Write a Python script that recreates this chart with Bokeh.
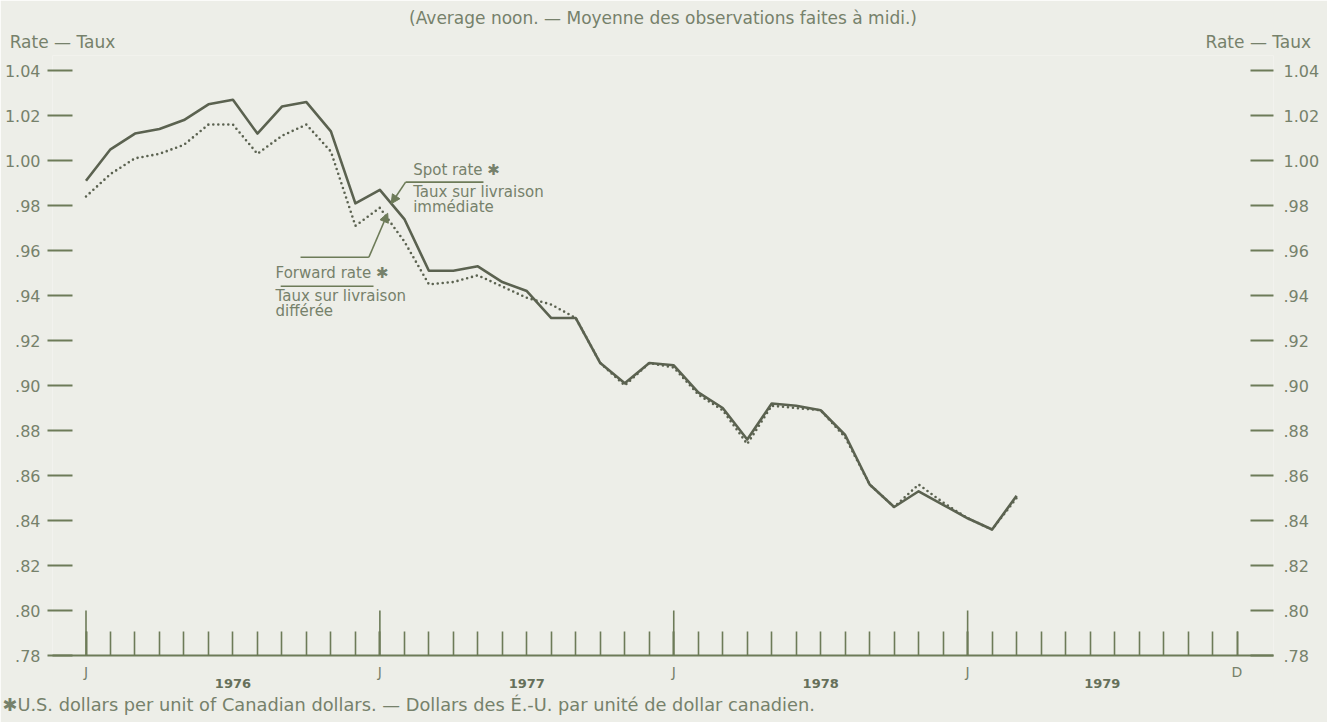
from bokeh.plotting import figure
from bokeh.models import (Range1d, LinearAxis, FixedTicker, Label, Arrow,
                          NormalHead, Title)
from bokeh.embed import file_html
from bokeh.resources import INLINE

# ---------------- data ----------------
# months since January 1976 (0 = Jan 1976)
months = list(range(39))
spot_rate = [0.991, 1.005, 1.012, 1.014, 1.018, 1.025, 1.027, 1.012, 1.024,
             1.026, 1.013, 0.981, 0.987, 0.974, 0.951, 0.951, 0.953, 0.946,
             0.942, 0.930, 0.930, 0.910, 0.901, 0.910, 0.909, 0.897, 0.890,
             0.876, 0.892, 0.891, 0.889, 0.878, 0.856, 0.846, 0.853, 0.847,
             0.841, 0.836, 0.851]
forward_rate = [0.984, 0.994, 1.001, 1.003, 1.007, 1.016, 1.016, 1.003, 1.011,
                1.016, 1.004, 0.971, 0.979, 0.964, 0.945, 0.946, 0.949, 0.944,
                0.939, 0.936, 0.930, 0.910, 0.900, 0.910, 0.908, 0.896, 0.889,
                0.874, 0.891, 0.890, 0.889, 0.877, 0.856, 0.846, 0.856, 0.848,
                0.841, 0.836, 0.850]

tick_months = list(range(48))
year_start_months = [0, 12, 24, 36]
month_label_pos = [0, 12, 24, 36, 47]
month_labels = ["J", "J", "J", "J", "D"]
year_pos = [6, 18, 30, 41.5]
year_labels = ["1976", "1977", "1978", "1979"]
y_ticks = [0.78, 0.80, 0.82, 0.84, 0.86, 0.88, 0.90, 0.92, 0.94, 0.96, 0.98,
           1.00, 1.02, 1.04]
y_tick_labels = [".78", ".80", ".82", ".84", ".86", ".88", ".90", ".92", ".94",
                 ".96", ".98", "1.00", "1.02", "1.04"]

title_text = "(Average noon. \u2014 Moyenne des observations faites \u00e0 midi.)"
axis_title = "Rate \u2014 Taux"
footnote = ("\u2731U.S. dollars per unit of Canadian dollars. \u2014 "
            "Dollars des \u00c9.-U. par unit\u00e9 de dollar canadien.")
spot_lines = ["Spot rate \u2731", "Taux sur livraison", "imm\u00e9diate"]
forward_lines = ["Forward rate \u2731", "Taux sur livraison", "diff\u00e9r\u00e9e"]

# ---------------- style ----------------
BG = "#edeee8"
AX = "#6d7b58"
TXT = "#76816b"
LINE = "#5b6250"
FONT = "DejaVu Sans"

W, H = 1327, 722
p = figure(width=W, height=H, output_backend="svg", toolbar_location=None,
           title=None, x_axis_location=None, y_axis_location=None,
           x_range=Range1d(-1.368, 48.49), y_range=Range1d(0.78, 1.0467),
           min_border_left=52, min_border_right=W - 1273,
           min_border_bottom=H - 655, min_border_top=55)
p.background_fill_color = BG
p.border_fill_color = BG
p.outline_line_color = None
p.grid.visible = False

# left / right value axes
for side, tin, tout, stand in (("left", 20, 5, 7), ("right", 23, 0, 10)):
    ax = LinearAxis(ticker=FixedTicker(ticks=y_ticks, minor_ticks=[]),
                    major_label_overrides=dict(zip(y_ticks, y_tick_labels)))
    ax.axis_line_color = None
    ax.major_tick_in = tin
    ax.major_tick_out = tout
    ax.major_tick_line_color = AX
    ax.major_tick_line_width = 2
    ax.minor_tick_line_color = None
    ax.major_label_standoff = stand
    ax.major_label_text_font = FONT
    ax.major_label_text_font_size = "16px"
    ax.major_label_text_color = TXT
    p.add_layout(ax, side)

# "Rate — Taux" headings over both value scales
head_pos = [-0.96, 47.87]
ha = LinearAxis(ticker=FixedTicker(ticks=head_pos, minor_ticks=[]),
                major_label_overrides={k: axis_title for k in head_pos})
ha.axis_line_color = None
ha.major_tick_line_color = None
ha.minor_tick_line_color = None
ha.major_tick_in = 0
ha.major_tick_out = 0
ha.major_label_standoff = 4
ha.major_label_text_font = FONT
ha.major_label_text_font_size = "17px"
ha.major_label_text_color = TXT
p.add_layout(ha, "above")

p.add_layout(Title(text=title_text, align="center", text_font=FONT,
                   text_font_size="17px", text_font_style="normal",
                   text_color=TXT, standoff=2, offset=6), "above")

# month axis
xa = LinearAxis(ticker=FixedTicker(ticks=month_label_pos, minor_ticks=tick_months),
                major_label_overrides=dict(zip(month_label_pos, month_labels)))
xa.axis_line_color = AX
xa.axis_line_width = 2.2
xa.major_tick_in = 24
xa.major_tick_out = 0
xa.minor_tick_in = 24
xa.minor_tick_out = 0
xa.major_tick_line_color = AX
xa.minor_tick_line_color = AX
xa.major_tick_line_width = 1.6
xa.minor_tick_line_width = 1.6
xa.major_label_standoff = 8
xa.major_label_text_font = FONT
xa.major_label_text_font_size = "14px"
xa.major_label_text_color = TXT
p.add_layout(xa, "below")

# year axis
ya = LinearAxis(ticker=FixedTicker(ticks=year_pos, minor_ticks=[]),
                major_label_overrides=dict(zip(year_pos, year_labels)))
ya.axis_line_color = None
ya.major_tick_line_color = None
ya.minor_tick_line_color = None
ya.major_tick_in = 0
ya.major_tick_out = 0
ya.major_label_standoff = -4
ya.major_label_text_font = FONT
ya.major_label_text_font_size = "13px"
ya.major_label_text_font_style = "bold"
ya.major_label_text_color = "#66705a"
p.add_layout(ya, "below")

p.add_layout(Title(text=footnote, align="left", text_font=FONT,
                   text_font_size="17.8px", text_font_style="normal",
                   text_color=TXT, standoff=3, offset=-50), "below")

# taller ticks at each January
p.segment(x0=year_start_months, x1=year_start_months,
          y0=[y_ticks[0]] * len(year_start_months),
          y1=[y_ticks[1]] * len(year_start_months),
          line_color=AX, line_width=1.6)

# data lines
p.line(months, forward_rate, line_color=LINE, line_width=2.6,
       line_dash="0 5", line_cap="round")
p.line(months, spot_rate, line_color=LINE, line_width=2.6, line_join="round")

# ---------------- annotations (layout positions) ----------------
def add_text(x, y, text, size):
    p.add_layout(Label(x=x, y=y, text=text, text_font=FONT,
                       text_font_size=size, text_align="left",
                       text_baseline="middle", text_color=TXT))

for txt, y in zip(spot_lines, [0.9956, 0.9859, 0.9792]):
    add_text(13.36, y, txt, "15px")
for txt, y in zip(forward_lines, [0.9499, 0.9398, 0.9331]):
    add_text(7.74, y, txt, "15px")

# leader lines and underline
p.segment(x0=[13.05, 8.76, 7.95], x1=[16.23, 11.55, 11.74],
          y0=[0.9904, 0.9570, 0.9441], y1=[0.9904, 0.9570, 0.9441],
          line_color=AX, line_width=1.6)
for xs, ys, xe, ye in ((13.05, 0.9904, 12.46, 0.9808),
                       (11.55, 0.9570, 12.32, 0.9766)):
    p.add_layout(Arrow(end=NormalHead(size=9, fill_color=AX, line_color=AX),
                       x_start=xs, y_start=ys, x_end=xe, y_end=ye,
                       line_color=AX, line_width=1.6))

open("out.html", "w").write(file_html(p, INLINE))
